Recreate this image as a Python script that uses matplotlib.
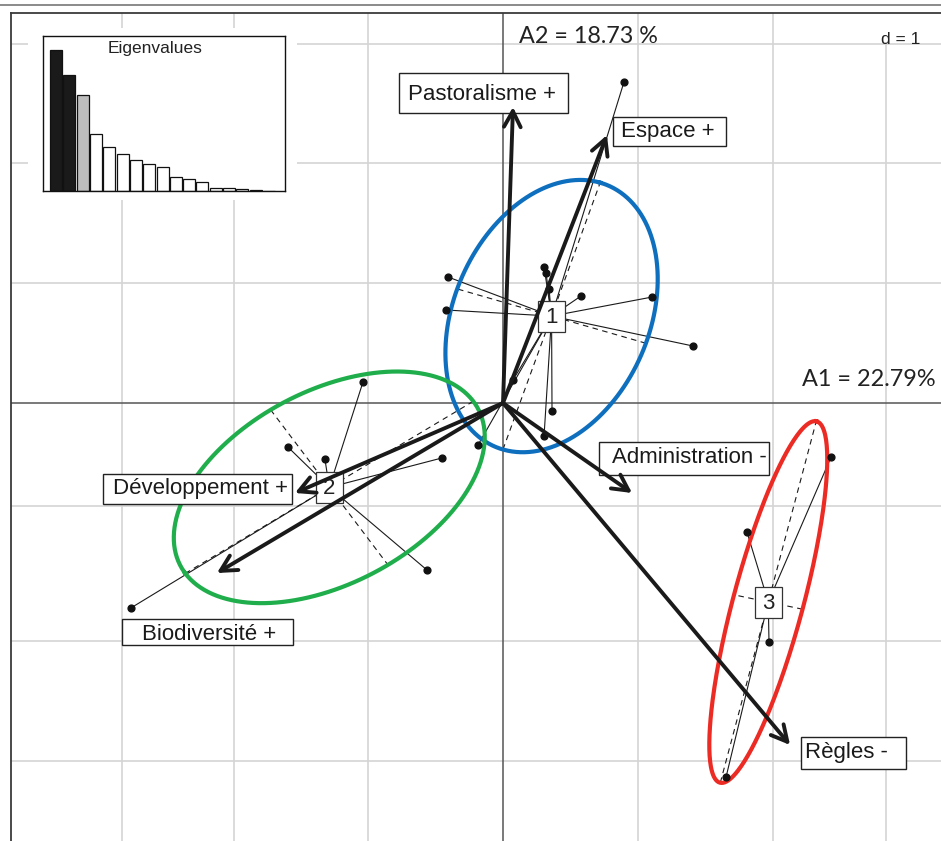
import numpy as np
import matplotlib
matplotlib.use('Agg')
import matplotlib.pyplot as plt
from matplotlib.patches import Rectangle, FancyArrowPatch
from matplotlib.lines import Line2D

# eigenvalues, % of inertia
eig = [22.79, 18.73, 15.52, 9.21, 7.06, 5.93, 4.96, 4.31, 3.83,
       2.26, 1.99, 1.51, 0.43, 0.43, 0.27, 0.11, 0.05]

# variable arrows (end points on A1 / A2)
var_names = ['Pastoralisme +', 'Espace +', 'Administration -',
             'Règles -', 'Développement +', 'Biodiversité +']
var_x = [0.074, 0.770, 0.956, 2.126, -1.541, -2.119]
var_y = [2.467, 2.233, -0.750, -2.850, -0.750, -1.417]

# individuals of each group
g1_x = [-0.407, -0.422, 0.304, 0.319, 0.341, 0.578, 1.104, 1.407,
        0.074, 0.363, 0.304, -0.185, 0.896]
g1_y = [1.050, 0.775, 1.133, 1.083, 0.950, 0.892, 0.883, 0.475,
        0.192, -0.067, -0.275, -0.350, 2.675]
g2_x = [-1.037, -1.593, -1.319, -0.452, -0.563, -2.756]
g2_y = [0.175, -0.367, -0.467, -0.458, -1.392, -1.708]
g3_x = [2.430, 1.807, 1.970, 1.652]
g3_y = [-0.450, -1.075, -1.992, -3.117]

groups = ['1', '2', '3']
group_colors = ['#0f6fbf', '#1fae4b', '#ec2b24']

xgrid = [-2.82, -1.99, -1.0, 1.0, 2.0, 2.84]
ygrid = [2.99, 2.0, 1.0, -0.86, -1.98, -2.98]

# label boxes: (x0, x1, y0, y1) and text centre, placed by hand like the original
label_box = [(-0.770, 0.481, 2.417, 2.750), (0.815, 1.652, 2.142, 2.383),
             (0.711, 1.970, -0.600, -0.325), (2.207, 2.985, -3.050, -2.783),
             (-2.963, -1.563, -0.842, -0.592), (-2.822, -1.556, -2.017, -1.800)]
label_txt = [(-0.152, 2.575), (1.220, 2.262), (1.378, -0.455),
             (2.541, -2.910), (-2.241, -0.710), (-2.178, -1.925)]

LAB = 'Liberation Sans'

fig = plt.figure(figsize=(9.41, 8.41), dpi=100)
fig.add_artist(Line2D([0, 1], [1 - 5 / 841] * 2, transform=fig.transFigure,
                      color='#8a8a8a', lw=1.4))

ax = fig.add_axes([11 / 941, 0, 930 / 941, 828 / 841])
ax.set_xlim(-3.644, 3.244)
ax.set_ylim(-3.65, 3.25)
ax.set_xticks([])
ax.set_yticks([])
for s in ['bottom', 'right']:
    ax.spines[s].set_visible(False)
for s in ['top', 'left']:
    ax.spines[s].set_color('#3a3a3a')
    ax.spines[s].set_linewidth(1.3)

for gx in xgrid:
    ax.axvline(gx, color='#d4d4d4', lw=1.2, zorder=1)
for gy in ygrid:
    ax.axhline(gy, color='#d4d4d4', lw=1.2, zorder=1)
ax.axhline(0, color='#555555', lw=1.1, zorder=1.5)
ax.axvline(0, color='#555555', lw=1.1, zorder=1.5)

# white areas behind inset and "d = 1"
ax.add_patch(Rectangle((-3.519, 1.692), 1.993, 1.433, fc='white', ec='none', zorder=2))
ax.add_patch(Rectangle((2.644, 3.01), 0.7, 0.3, fc='white', ec='none', zorder=2))

def cov_ellipse(x, y, k=1.5):
    pts = np.column_stack([x, y])
    c = pts.mean(axis=0)
    cov = np.cov(pts.T, bias=True)
    vals, vecs = np.linalg.eigh(cov)
    a = k * np.sqrt(vals[1]) * vecs[:, 1]
    b = k * np.sqrt(vals[0]) * vecs[:, 0]
    return c, a, b

t = np.linspace(0, 2 * np.pi, 300)
centres = []
for gx, gy, col in zip([g1_x, g2_x, g3_x], [g1_y, g2_y, g3_y], group_colors):
    c, a, b = cov_ellipse(gx, gy)
    centres.append(c)
    for px, py in zip(gx, gy):
        ax.plot([c[0], px], [c[1], py], color='#1a1a1a', lw=0.8, zorder=3)
    for v in (a, b):
        ax.plot([c[0] - v[0], c[0] + v[0]], [c[1] - v[1], c[1] + v[1]],
                color='#1a1a1a', lw=0.8, ls=(0, (5, 4)), zorder=3)
    ax.plot(c[0] + a[0] * np.cos(t) + b[0] * np.sin(t),
            c[1] + a[1] * np.cos(t) + b[1] * np.sin(t),
            color=col, lw=3.0, zorder=4)
    ax.scatter(gx, gy, s=24, color='#111111', zorder=5)

# group labels in small boxes (about 27 x 31 px)
bw, bh = 0.2, 0.258
for c, g in zip(centres, groups):
    ax.add_patch(Rectangle((c[0] - bw / 2, c[1] - bh / 2), bw, bh, fc='white',
                           ec='#333333', lw=0.9, zorder=6))
    ax.text(c[0], c[1] - 0.01, g, fontsize=16, family=LAB, ha='center',
            va='center', color='#222222', zorder=6.5)

for name, (x0, x1, y0, y1), (tx, ty) in zip(var_names, label_box, label_txt):
    ax.add_patch(Rectangle((x0, y0), x1 - x0, y1 - y0, fc='white',
                           ec='#222222', lw=1.0, zorder=7))
    ax.text(tx, ty, name, fontsize=16, family=LAB, ha='center', va='center',
            color='#1a1a1a', zorder=7.5)

for vx, vy in zip(var_x, var_y):
    ax.add_patch(FancyArrowPatch((0, 0), (vx, vy),
                                 arrowstyle='->,head_length=0.57,head_width=0.3',
                                 mutation_scale=20, lw=2.8, color='#1a1a1a',
                                 shrinkA=0, shrinkB=0, zorder=9))

ax.text(0.119, 3.058, 'A2 = 18.73 %', fontsize=16.8, family='Lato',
        ha='left', va='center', color='#222222', zorder=8)
ax.text(3.207, 0.192, 'A1 = 22.79%', fontsize=16.9, family='Lato',
        ha='right', va='center', color='#222222', zorder=8)
ax.text(3.093, 3.033, 'd = 1', fontsize=12.5, family=LAB,
        ha='right', va='center', color='#222222', zorder=8)

# eigenvalue inset
ins = fig.add_axes([43 / 941, 1 - 191 / 841, 242 / 941, 155 / 841])
bar_cols = ['#1a1a1a', '#1a1a1a', '#bdbdbd'] + ['white'] * (len(eig) - 3)
ins.bar(range(len(eig)), eig, width=0.9, color=bar_cols,
        edgecolor='#111111', lw=0.9)
ins.set_xlim(-0.976, 17.2)
ins.set_ylim(0, 25.05)
ins.set_xticks([])
ins.set_yticks([])
for s in ins.spines.values():
    s.set_color('#111111')
    s.set_linewidth(1.0)
ins.text(0.463, 0.92, 'Eigenvalues', transform=ins.transAxes, fontsize=12.5,
         family=LAB, ha='center', va='center', color='#222222')

fig.savefig('out.png', dpi=100)
